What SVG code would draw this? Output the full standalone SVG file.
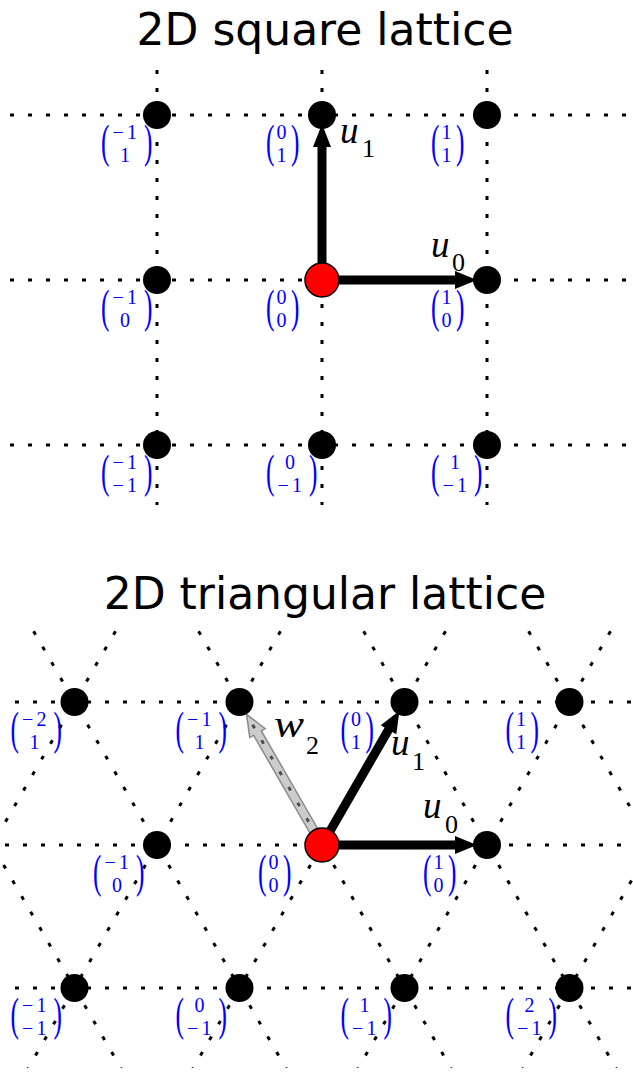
<svg xmlns="http://www.w3.org/2000/svg" width="633" height="1073" viewBox="0 0 633 1073">
<style>
.grid{stroke:#000;stroke-width:3;stroke-dasharray:4 14;fill:none}
.node{fill:#000}
.origin{fill:#ff0000;stroke:#000;stroke-width:1.5}
.lbl{font-family:"Liberation Serif",serif;font-size:20px;fill:#0000ff}
.par{font-family:"Liberation Serif",serif;font-size:46px;fill:#0000ff}
.title{font-family:"DejaVu Sans",sans-serif;font-size:44px;text-anchor:middle;fill:#000}
.math{font-family:"Liberation Serif",serif;font-style:italic;font-size:37px;fill:#000}
.sub{font-style:normal;font-size:26px}
.arrow{fill:#000}
.ghost{fill:#999;fill-opacity:0.5;stroke:#333;stroke-opacity:0.5;stroke-width:1.5}
</style>
<defs>
<clipPath id="triclip"><rect x="0" y="628" width="633" height="440"/></clipPath>
</defs>
<rect width="633" height="1073" fill="#fff"/>

<text class="title" x="325" y="45">2D square lattice</text>
<text class="title" x="325" y="609">2D triangular lattice</text>

<g id="grid-square" class="grid">
<line x1="10" y1="115" x2="633" y2="115"/>
<line x1="10" y1="280" x2="633" y2="280"/>
<line x1="10" y1="445" x2="633" y2="445"/>
<line x1="157" y1="70" x2="157" y2="505"/>
<line x1="322" y1="70" x2="322" y2="505"/>
<line x1="487" y1="70" x2="487" y2="505"/>
</g>

<g id="grid-triangular" class="grid" clip-path="url(#triclip)">
<line x1="15" y1="702" x2="633" y2="702"/>
<line x1="5" y1="845" x2="633" y2="845"/>
<line x1="15" y1="988" x2="633" y2="988"/>
<line x1="-149.4" y1="600" x2="139.3" y2="1100"/>
<line x1="15.6" y1="600" x2="304.3" y2="1100"/>
<line x1="180.6" y1="600" x2="469.3" y2="1100"/>
<line x1="345.6" y1="600" x2="634.3" y2="1100"/>
<line x1="510.6" y1="600" x2="799.3" y2="1100"/>
<line x1="133.5" y1="600" x2="-155.2" y2="1100"/>
<line x1="298.5" y1="600" x2="9.8" y2="1100"/>
<line x1="463.5" y1="600" x2="174.8" y2="1100"/>
<line x1="628.5" y1="600" x2="339.8" y2="1100"/>
<line x1="793.5" y1="600" x2="504.8" y2="1100"/>
</g>

<g id="connectors">
<polygon id="sq-u1" class="arrow" points="326.5,280 326.5,147 331,147 322,124 313,147 317.5,147 317.5,280"/>
<polygon id="sq-u0" class="arrow" points="322,275.5 455,275.5 455,271 477,280 455,289 455,284.5 322,284.5"/>
<polygon id="tri-w2" class="ghost" points="325.9,842.75 261.4,730.9 265.3,728.65 246.5,714.1 249.7,737.65 253.6,735.4 318.1,847.25"/>
<polygon id="tri-u1" class="arrow" points="325.9,847.25 392.4,731.95 396.3,734.2 399.5,710.7 380.7,725.2 384.6,727.45 318.1,842.75"/>
<polygon id="tri-u0" class="arrow" points="322,840.5 455,840.5 455,836 477,845 455,854 455,849.5 322,849.5"/>
<text class="math" x="340" y="143">u<tspan class="sub" x="362" y="157">1</tspan></text>
<text class="math" x="431" y="257">u<tspan class="sub" x="452" y="271">0</tspan></text>
<text class="math" x="274" y="737"><tspan textLength="30" lengthAdjust="spacingAndGlyphs">w</tspan><tspan class="sub" x="306" y="754">2</tspan></text>
<text class="math" x="391" y="755">u<tspan class="sub" x="412" y="770">1</tspan></text>
<text class="math" x="423" y="818">u<tspan class="sub" x="445" y="833">0</tspan></text>
</g>

<g id="sq-node-m1-1"><circle class="node" cx="157" cy="115" r="14"/>
<text class="par" transform="translate(101,156.5) scale(0.55,1)">(</text><text class="lbl"><tspan x="112.5 127" y="139">−1</tspan><tspan x="120" y="162">1</tspan></text><text class="par" transform="translate(144,156.5) scale(0.55,1)">)</text></g>
<g id="sq-node-0-1"><circle class="node" cx="322" cy="115" r="14"/>
<text class="par" transform="translate(266,156.5) scale(0.55,1)">(</text><text class="lbl"><tspan x="276.5" y="139">0</tspan><tspan x="276.5" y="162">1</tspan></text><text class="par" transform="translate(291,156.5) scale(0.55,1)">)</text></g>
<g id="sq-node-1-1"><circle class="node" cx="487" cy="115" r="14"/>
<text class="par" transform="translate(431,156.5) scale(0.55,1)">(</text><text class="lbl"><tspan x="441.5" y="139">1</tspan><tspan x="441.5" y="162">1</tspan></text><text class="par" transform="translate(456,156.5) scale(0.55,1)">)</text></g>
<g id="sq-node-m1-0"><circle class="node" cx="157" cy="280" r="14"/>
<text class="par" transform="translate(101,321.5) scale(0.55,1)">(</text><text class="lbl"><tspan x="112.5 127" y="304">−1</tspan><tspan x="120" y="327">0</tspan></text><text class="par" transform="translate(144,321.5) scale(0.55,1)">)</text></g>
<g id="sq-node-0-0"><circle class="origin" cx="322" cy="280" r="17"/>
<text class="par" transform="translate(266,321.5) scale(0.55,1)">(</text><text class="lbl"><tspan x="276.5" y="304">0</tspan><tspan x="276.5" y="327">0</tspan></text><text class="par" transform="translate(291,321.5) scale(0.55,1)">)</text></g>
<g id="sq-node-1-0"><circle class="node" cx="487" cy="280" r="14"/>
<text class="par" transform="translate(431,321.5) scale(0.55,1)">(</text><text class="lbl"><tspan x="441.5" y="304">1</tspan><tspan x="441.5" y="327">0</tspan></text><text class="par" transform="translate(456,321.5) scale(0.55,1)">)</text></g>
<g id="sq-node-m1-m1"><circle class="node" cx="157" cy="445" r="14"/>
<text class="par" transform="translate(101,486.5) scale(0.55,1)">(</text><text class="lbl"><tspan x="112.5 127" y="469">−1</tspan><tspan x="112.5 127" y="492">−1</tspan></text><text class="par" transform="translate(144,486.5) scale(0.55,1)">)</text></g>
<g id="sq-node-0-m1"><circle class="node" cx="322" cy="445" r="14"/>
<text class="par" transform="translate(266,486.5) scale(0.55,1)">(</text><text class="lbl"><tspan x="285" y="469">0</tspan><tspan x="277.5 292" y="492">−1</tspan></text><text class="par" transform="translate(309,486.5) scale(0.55,1)">)</text></g>
<g id="sq-node-1-m1"><circle class="node" cx="487" cy="445" r="14"/>
<text class="par" transform="translate(431,486.5) scale(0.55,1)">(</text><text class="lbl"><tspan x="450" y="469">1</tspan><tspan x="442.5 457" y="492">−1</tspan></text><text class="par" transform="translate(474,486.5) scale(0.55,1)">)</text></g>

<g id="tri-node-m2-1"><circle class="node" cx="74.5" cy="702" r="14"/>
<text class="par" transform="translate(10.5,743.5) scale(0.55,1)">(</text><text class="lbl"><tspan x="22 36.5" y="726">−2</tspan><tspan x="29.5" y="749">1</tspan></text><text class="par" transform="translate(53.5,743.5) scale(0.55,1)">)</text></g>
<g id="tri-node-m1-1"><circle class="node" cx="239.5" cy="702" r="14"/>
<text class="par" transform="translate(175.5,743.5) scale(0.55,1)">(</text><text class="lbl"><tspan x="187 201.5" y="726">−1</tspan><tspan x="194.5" y="749">1</tspan></text><text class="par" transform="translate(218.5,743.5) scale(0.55,1)">)</text></g>
<g id="tri-node-0-1"><circle class="node" cx="404.5" cy="702" r="14"/>
<text class="par" transform="translate(340.5,743.5) scale(0.55,1)">(</text><text class="lbl"><tspan x="351" y="726">0</tspan><tspan x="351" y="749">1</tspan></text><text class="par" transform="translate(365.5,743.5) scale(0.55,1)">)</text></g>
<g id="tri-node-1-1"><circle class="node" cx="569.5" cy="702" r="14"/>
<text class="par" transform="translate(505.5,743.5) scale(0.55,1)">(</text><text class="lbl"><tspan x="516" y="726">1</tspan><tspan x="516" y="749">1</tspan></text><text class="par" transform="translate(530.5,743.5) scale(0.55,1)">)</text></g>
<g id="tri-node-m1-0"><circle class="node" cx="157" cy="845" r="14"/>
<text class="par" transform="translate(93,886.5) scale(0.55,1)">(</text><text class="lbl"><tspan x="104.5 119" y="869">−1</tspan><tspan x="112" y="892">0</tspan></text><text class="par" transform="translate(136,886.5) scale(0.55,1)">)</text></g>
<g id="tri-node-0-0"><circle class="origin" cx="322" cy="845" r="17"/>
<text class="par" transform="translate(258,886.5) scale(0.55,1)">(</text><text class="lbl"><tspan x="268.5" y="869">0</tspan><tspan x="268.5" y="892">0</tspan></text><text class="par" transform="translate(283,886.5) scale(0.55,1)">)</text></g>
<g id="tri-node-1-0"><circle class="node" cx="487" cy="845" r="14"/>
<text class="par" transform="translate(423,886.5) scale(0.55,1)">(</text><text class="lbl"><tspan x="433.5" y="869">1</tspan><tspan x="433.5" y="892">0</tspan></text><text class="par" transform="translate(448,886.5) scale(0.55,1)">)</text></g>
<g id="tri-node-m1-m1"><circle class="node" cx="74.5" cy="988" r="14"/>
<text class="par" transform="translate(10.5,1029.5) scale(0.55,1)">(</text><text class="lbl"><tspan x="22 36.5" y="1012">−1</tspan><tspan x="22 36.5" y="1035">−1</tspan></text><text class="par" transform="translate(53.5,1029.5) scale(0.55,1)">)</text></g>
<g id="tri-node-0-m1"><circle class="node" cx="239.5" cy="988" r="14"/>
<text class="par" transform="translate(175.5,1029.5) scale(0.55,1)">(</text><text class="lbl"><tspan x="194.5" y="1012">0</tspan><tspan x="187 201.5" y="1035">−1</tspan></text><text class="par" transform="translate(218.5,1029.5) scale(0.55,1)">)</text></g>
<g id="tri-node-1-m1"><circle class="node" cx="404.5" cy="988" r="14"/>
<text class="par" transform="translate(340.5,1029.5) scale(0.55,1)">(</text><text class="lbl"><tspan x="359.5" y="1012">1</tspan><tspan x="352 366.5" y="1035">−1</tspan></text><text class="par" transform="translate(383.5,1029.5) scale(0.55,1)">)</text></g>
<g id="tri-node-2-m1"><circle class="node" cx="569.5" cy="988" r="14"/>
<text class="par" transform="translate(505.5,1029.5) scale(0.55,1)">(</text><text class="lbl"><tspan x="524.5" y="1012">2</tspan><tspan x="517 531.5" y="1035">−1</tspan></text><text class="par" transform="translate(548.5,1029.5) scale(0.55,1)">)</text></g>
</svg>
